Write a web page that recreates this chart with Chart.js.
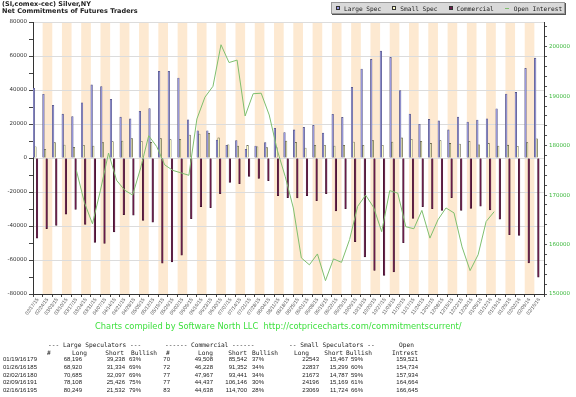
<!DOCTYPE html>
<html>
<head>
<meta charset="utf-8">
<script src="https://cdn.jsdelivr.net/npm/chart.js@4.4.0/dist/chart.umd.min.js"></script>
<style>
  body { margin: 0; background: #fff; }
  #wrap { position: relative; width: 576px; height: 397px; overflow: hidden; }
  #cotChart { position: absolute; left: 0; top: 0; }
  #title { position: absolute; left: 2px; top: 1px; font: bold 6.5px 'DejaVu Sans'; line-height: 7px; color: #222; }
  #legend { position: absolute; left: 331px; top: 2px; width: 234px; height: 12px; background: #d9d9d9;
            border: 1px solid #999; box-shadow: 1px 1px 0 #555; display: flex; align-items: center;
            padding-left: 4px; box-sizing: border-box; font: 6.2px 'DejaVu Sans Mono'; color: #222;
            white-space: nowrap; }
  #legend .sw { display: inline-block; width: 4px; height: 4px; border: 1px solid #333; box-sizing: border-box; margin-right: 4px; flex: none; }
  #legend .ln { display: inline-block; width: 4px; height: 1px; margin-right: 5px; flex: none; }
  #legend .item { display: flex; align-items: center; margin-right: 11px; white-space: nowrap; flex: none; }
  #credit { position: absolute; left: 95px; top: 322px; font: 8.3px 'DejaVu Sans'; line-height: 1; color: #3fe03f; white-space: pre; }
  .cell { position: absolute; white-space: pre; line-height: 1; color: #222; }
  .hd { font: 6.2px 'DejaVu Sans Mono'; }
  .num { font: 6px 'Liberation Sans'; }
</style>
</head>
<body>
<div id="wrap">
  <canvas id="cotChart" width="576" height="397"></canvas>
  <div id="title">(SI,comex-cec) Silver,NY<br>Net Commitments of Futures Traders</div>
  <div id="legend"></div>
  <div id="credit">Charts compiled by Software North LLC  http://cotpricecharts.com/commitmentscurrent/</div>
  <div id="table"></div>
</div>
<script>
const weeks = ['02/17/15', '02/24/15', '03/03/15', '03/10/15', '03/17/15', '03/24/15', '03/31/15', '04/07/15',
  '04/14/15', '04/21/15', '04/28/15', '05/05/15', '05/12/15', '05/19/15', '05/26/15', '06/02/15', '06/09/15',
  '06/16/15', '06/23/15', '06/30/15', '07/07/15', '07/14/15', '07/21/15', '07/28/15', '08/04/15', '08/11/15',
  '08/18/15', '08/25/15', '09/01/15', '09/08/15', '09/15/15', '09/22/15', '09/29/15', '10/06/15', '10/13/15',
  '10/20/15', '10/27/15', '11/03/15', '11/10/15', '11/17/15', '11/24/15', '12/01/15', '12/08/15', '12/15/15',
  '12/22/15', '12/29/15', '01/05/16', '01/12/16', '01/19/16', '01/26/16', '02/02/16', '02/09/16', '02/16/16'];

const largeSpec = [41000, 37500, 31000, 25800, 24300, 32500, 43000, 42000, 34500, 24000, 23000, 27500, 29000,
  51000, 51000, 47000, 22500, 16000, 16000, 10600, 7500, 10200, 5100, 7000, 9000, 17500, 14900, 16500, 18000,
  19200, 14700, 25700, 23900, 41600, 52300, 58000, 62900, 59200, 39600, 25900, 19800, 22700, 21800, 16500,
  24100, 21200, 22300, 23100, 28958, 37586, 38588, 52682, 58717];

const smallSpec = [6600, 5100, 9000, 7600, 6300, 7500, 7000, 9000, 9600, 10000, 11400, 9800, 9200, 11400, 10800,
  11000, 13500, 14100, 14500, 11800, 7800, 7000, 7400, 6600, 6100, 6100, 10000, 9200, 5900, 7500, 7500, 7000,
  7500, 9400, 7500, 10200, 7500, 9400, 11800, 11000, 9800, 8600, 10200, 8600, 8200, 9800, 7800, 8600, 7076,
  7538, 6886, 9027, 11345];

const commercial = [-47200, -41500, -39600, -33100, -30200, -39000, -49600, -50200, -43500, -33300, -33700,
  -36700, -37800, -61900, -61200, -57200, -35700, -28600, -29200, -21000, -14300, -15100, -10800, -12000, -13300,
  -22200, -23300, -23500, -22200, -25100, -21000, -31200, -29800, -49200, -58200, -66200, -69000, -67000, -49800,
  -35500, -28600, -29800, -30800, -23300, -30800, -29600, -28400, -30600, -36034, -45124, -45474, -61709, -70062];

const openInterest = [175000, 168500, 164200, 171000, 178500, 173000, 171000, 170000, 175500, 182000, 179800,
  176100, 175000, 174500, 174000, 185400, 189800, 192000, 200400, 196800, 197300, 186000, 190500, 190600, 186200,
  179100, 173700, 167400, 157300, 155900, 158100, 152700, 157100, 156400, 161000, 167700, 170000, 167500, 162600,
  170900, 170400, 163600, 163200, 166900, 161300, 165000, 167400, 166400, 159521, 154734, 157934, 164664, 166645];

// table under the chart
const tblDates = ['01/19/16', '01/26/16', '02/02/16', '02/09/16', '02/16/16'];
const lsTraders = [179, 185, 180, 191, 195];
const lsLong = [68196, 68920, 70685, 78108, 80249];
const lsShort = [39238, 31334, 32097, 25426, 21532];
const lsBullish = [63, 69, 69, 75, 79];
const cmTraders = [70, 72, 77, 77, 83];
const cmLong = [49508, 46228, 47967, 44437, 44638];
const cmShort = [85542, 91352, 93441, 106146, 114700];
const cmBullish = [37, 34, 34, 30, 28];
const ssLong = [22543, 22837, 21673, 24196, 23069];
const ssShort = [15467, 15299, 14787, 15169, 11724];
const ssBullish = [59, 60, 59, 61, 66];
const oiTable = [159521, 154734, 157934, 164664, 166645];

const stripes = {
    id: 'stripes',
    beforeDraw(chart) {
        const {ctx, chartArea, scales} = chart;
        const w = chartArea.width / weeks.length;
        ctx.save();
        ctx.fillStyle = '#fde9d1';
        for (let i = 1; i < weeks.length; i += 2) {
            const cx = scales.x.getPixelForValue(i);
            ctx.fillRect(cx - w / 2, chartArea.top, w, chartArea.height);
        }
        ctx.restore();
    }
};

function populateChartData() {
    return {
        labels: weeks,
        datasets: [
            { label: 'Large Spec', data: largeSpec, backgroundColor: '#9a9ae0', borderColor: '#4a4a78',
              borderWidth: 0.6, order: 1, xAxisID: 'x', yAxisID: 'y' },
            { label: 'Small Spec', data: smallSpec, backgroundColor: '#ffffc8', borderColor: '#4a4a30',
              borderWidth: 0.6, order: 1, xAxisID: 'x', yAxisID: 'y' },
            { label: 'Commercial', data: commercial, backgroundColor: '#6a1a4a', borderColor: '#3a1028',
              borderWidth: 0.6, order: 1, xAxisID: 'x', yAxisID: 'y' },
            { type: 'line', label: 'Open Interest', data: openInterest.map((v, i) => ({ x: i - 0.4, y: v })),
              xAxisID: 'x2', yAxisID: 'y1', borderColor: '#7fbf6e', borderWidth: 1, pointRadius: 0, order: 0 }
        ]
    };
}

function createChart(ctx, chartData) {
    const tickFont = { family: 'DejaVu Sans', size: 5.5 };
    return new Chart(ctx, {
        type: 'bar',
        data: chartData,
        plugins: [stripes],
        options: {
            responsive: false,
            animation: false,
            layout: { padding: { top: 22, left: 0, right: 0, bottom: 73 } },
            datasets: { bar: { categoryPercentage: 1, barPercentage: 1 } },
            scales: {
                x: {
                    type: 'category',
                    offset: true,
                    grid: { offset: true, drawOnChartArea: false, tickLength: 3, color: '#444' },
                    border: { color: '#333' },
                    ticks: { autoSkip: false, minRotation: 54, maxRotation: 54, padding: 0, color: '#555',
                             font: { family: 'Liberation Sans', size: 5 } },
                    afterFit: s => { s.height = 30; }
                },
                x2: { type: 'linear', display: false, min: -0.5, max: weeks.length - 0.5 },
                y: {
                    position: 'left',
                    min: -80000, max: 80000,
                    ticks: { stepSize: 10000, padding: 2, color: '#333', font: tickFont,
                             callback: v => (v % 20000 === 0 ? String(v) : '') },
                    grid: { color: c => (c.tick && c.tick.value % 20000 === 0 ? '#dcdcdc' : 'rgba(0,0,0,0)'),
                            tickColor: '#444', tickLength: 4 },
                    border: { color: '#333' },
                    afterFit: s => { s.width = 33; }
                },
                y1: {
                    position: 'right',
                    min: 150000, max: 205000,
                    ticks: { stepSize: 1000, padding: 2, color: '#3cb83c', font: tickFont,
                             callback: v => (v % 5000 === 0 ? String(v) : '') },
                    grid: { drawOnChartArea: false, tickLength: 3, tickColor: '#555' },
                    border: { color: '#333' },
                    afterFit: s => { s.width = 32; }
                }
            },
            plugins: {
                legend: { display: false },
                title: { display: false },
                tooltip: { enabled: false }
            }
        }
    });
}

function buildLegend(chartData) {
    const box = document.getElementById('legend');
    chartData.datasets.forEach(ds => {
        const item = document.createElement('span');
        item.className = 'item';
        const sw = document.createElement('span');
        if (ds.type === 'line') {
            sw.className = 'ln';
            sw.style.background = ds.borderColor;
        } else {
            sw.className = 'sw';
            sw.style.background = ds.backgroundColor;
        }
        item.appendChild(sw);
        item.appendChild(document.createTextNode(ds.label));
        box.appendChild(item);
    });
}

function buildTable() {
    const tbl = document.getElementById('table');
    const fmt = n => n.toLocaleString('en-US');
    function put(text, x, y, cls, right) {
        const el = document.createElement('div');
        el.className = 'cell ' + cls;
        el.textContent = text;
        el.style.top = y + 'px';
        if (right) el.style.right = (576 - x) + 'px'; else el.style.left = x + 'px';
        tbl.appendChild(el);
    }
    put('--- Large Speculators ---', 48, 341, 'hd');
    put('------ Commercial ------', 165, 341, 'hd');
    put('-- Small Speculators --', 289, 341, 'hd');
    put('Open', 414, 341, 'hd', true);
    const h2 = 348.5;
    put('#', 47, h2, 'hd'); put('Long', 87, h2, 'hd', true); put('Short', 124, h2, 'hd', true); put('Bullish', 131, h2, 'hd');
    put('#', 166, h2, 'hd'); put('Long', 213, h2, 'hd', true); put('Short', 247, h2, 'hd', true); put('Bullish', 252, h2, 'hd');
    put('Long', 309, h2, 'hd', true); put('Short', 343, h2, 'hd', true); put('Bullish', 346, h2, 'hd');
    put('Intrest', 418, h2, 'hd', true);
    tblDates.forEach((d, k) => {
        const y = 356.3 + k * 7.7;
        put(d, 3, y, 'num');
        put(String(lsTraders[k]), 37, y, 'num', true);
        put(fmt(lsLong[k]), 82, y, 'num', true);
        put(fmt(lsShort[k]), 125, y, 'num', true);
        put(lsBullish[k] + '%', 129, y, 'num');
        put(String(cmTraders[k]), 170, y, 'num', true);
        put(fmt(cmLong[k]), 213, y, 'num', true);
        put(fmt(cmShort[k]), 247, y, 'num', true);
        put(cmBullish[k] + '%', 252, y, 'num');
        put(String(ssLong[k]), 319, y, 'num', true);
        put(fmt(ssShort[k]), 348, y, 'num', true);
        put(ssBullish[k] + '%', 351, y, 'num');
        put(fmt(oiTable[k]), 418, y, 'num', true);
    });
}

document.addEventListener('DOMContentLoaded', () => {
    const ctx = document.getElementById('cotChart').getContext('2d');
    const chartData = populateChartData();
    createChart(ctx, chartData);
    buildLegend(chartData);
    buildTable();
});
</script>
</body>
</html>
